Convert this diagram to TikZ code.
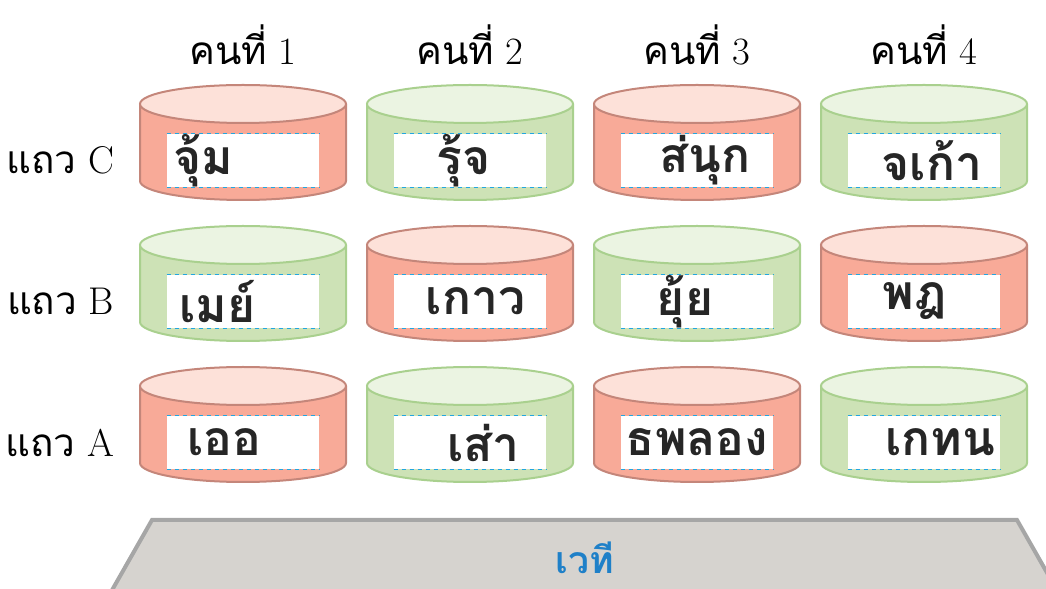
\documentclass[tikz,border=0pt]{standalone}
\usepackage{fontspec}
\newfontfamily\thaifont[Script=Thai]{Loma}
\usetikzlibrary{positioning}
\definecolor{drumRed}{HTML}{F8AA98}
\definecolor{drumRedTop}{HTML}{FDE1D9}
\definecolor{drumRedEdge}{HTML}{C4867A}
\definecolor{drumGreen}{HTML}{CDE2B6}
\definecolor{drumGreenTop}{HTML}{EBF4E2}
\definecolor{drumGreenEdge}{HTML}{A9D08E}
\definecolor{stageGrey}{HTML}{D6D3CF}
\definecolor{stageEdge}{HTML}{A6A6A6}
\definecolor{stageBlue}{HTML}{1F80C8}
\definecolor{dashCyan}{HTML}{22A6E0}
\tikzset{%
  % drum parts
      redSide/.style = {fill=drumRed},
      redLine/.style = {draw=drumRedEdge, line width=1.5pt},
       redTop/.style = {fill=drumRedTop, draw=drumRedEdge, line width=1.5pt},
    greenSide/.style = {fill=drumGreen},
    greenLine/.style = {draw=drumGreenEdge, line width=1.5pt},
     greenTop/.style = {fill=drumGreenTop, draw=drumGreenEdge, line width=1.5pt},
      wordbox/.style = {rectangle, fill=white, inner sep=0pt,
                        minimum width=114pt, minimum height=39.75pt},
     boxedge/.style = {draw=dashCyan, line width=0.8pt,
                        dash pattern=on 3.5pt off 2.5pt},
  % texts
         head/.style = {font=\fontsize{29}{32}\selectfont},
         word/.style = {font=\thaifont\bfseries\fontsize{36}{40}\selectfont,
                        text=black!85, inner sep=0pt},
}
% drum: name, x, y of the top centre, colour
\newcommand{\drum}[4]{%
  \fill[#4Side] (#2-103,#3) -- (#2-103,#3-77)
    arc[start angle=180, end angle=360, x radius=103, y radius=19] -- (#2+103,#3) -- cycle;
  \draw[#4Line] (#2-103,#3) -- (#2-103,#3-77)
    arc[start angle=180, end angle=360, x radius=103, y radius=19] -- (#2+103,#3);
  \filldraw[#4Top] (#2,#3) ellipse[x radius=103, y radius=19];
  \node[wordbox] (#1) at (#2,#3-56.5) {};
  \draw[boxedge] (#1.north west) -- (#1.north east);
  \draw[boxedge] (#1.south west) -- (#1.south east);
}
\begin{document}
\begin{tikzpicture}[x=0.75pt, y=0.75pt]
  \useasboundingbox (0,0) rectangle (1046,589);
  \clip (0,0) rectangle (1046,589);

  % headers
  \node (p1) [head] at (243,544) {{\thaifont คนที่} 1};
  \node (p2) [head] at (470,544) {{\thaifont คนที่} 2};
  \node (p3) [head] at (697,544) {{\thaifont คนที่} 3};
  \node (p4) [head] at (924,544) {{\thaifont คนที่} 4};

  % drums, row C, B, A
  \drum{c1}{243}{485}{red}
  \drum{c2}{470}{485}{green}
  \drum{c3}{697}{485}{red}
  \drum{c4}{924}{485}{green}
  \drum{b1}{243}{344}{green}
  \drum{b2}{470}{344}{red}
  \drum{b3}{697}{344}{green}
  \drum{b4}{924}{344}{red}
  \drum{a1}{243}{203}{red}
  \drum{a2}{470}{203}{green}
  \drum{a3}{697}{203}{red}
  \drum{a4}{924}{203}{green}

  \node (rowC) [head, left=36pt of c1] {{\thaifont แถว} C};
  \node (rowB) [head, left=36pt of b1] {{\thaifont แถว} B};
  \node (rowA) [head, left=36pt of a1] {{\thaifont แถว} A};

  % words on the drums
  \node (wc1) [word] at ([xshift=-30pt]c1.center) {จุ้ม};
  \node (wc2) [word] at ([xshift=-5pt]c2.center)  {รุ้จ};
  \node (wc3) [word] at ([xshift=6pt]c3.center)   {ส่นุก};
  \node (wc4) [word] at ([xshift=6pt]c4.center)   {จเก้า};
  \node (wb1) [word] at ([xshift=-19pt]b1.center) {เมย์};
  \node (wb2) [word] at ([xshift=4pt]b2.center)   {เกาว};
  \node (wb3) [word] at ([xshift=-9pt]b3.center)  {ยุ้ย};
  \node (wb4) [word] at ([xshift=-7pt]b4.center)  {พฎ};
  \node (wa1) [word] at ([xshift=-14pt]a1.center) {เออ};
  \node (wa2) [word] at ([xshift=10pt]a2.center)  {เส่า};
  \node (wa3) [word] at (a3.center)               {ธพลอง};
  \node (wa4) [word] at ([xshift=12pt]a4.center)  {เกทน};

  % stage
  \filldraw[fill=stageGrey, draw=stageEdge, line width=3pt]
    (152,69) -- (1017,69) -- (1062,-10) -- (107,-10) -- cycle;
  \node (stage) [font=\thaifont\bfseries\fontsize{28}{30}\selectfont, text=stageBlue]
    at (585,31) {เวที};
\end{tikzpicture}
\end{document}
